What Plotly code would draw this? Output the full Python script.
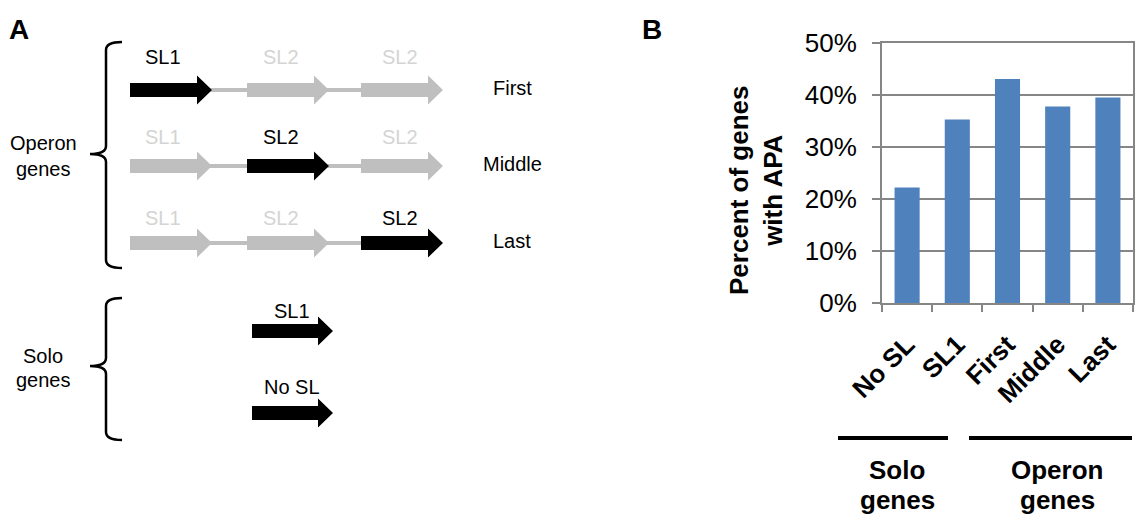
import plotly.graph_objects as go

# ---------------- data ----------------
categories = ["No SL", "SL1", "First", "Middle", "Last"]
apa_percent = [22.2, 35.3, 43.1, 37.8, 39.5]
y_ticks = [0, 10, 20, 30, 40, 50]
y_tick_text = ["0%", "10%", "20%", "30%", "40%", "50%"]
group_labels = ["Solo", "Operon"]

# panel A labels
operon_rows = ["First", "Middle", "Last"]
operon_sl = ["SL1", "SL2", "SL2"]
solo_rows = ["SL1", "No SL"]

W, H = 1139, 520
FONT = "Liberation Sans, Arial, sans-serif"
BLACK = "#000000"
GRAY_ARROW = "#bfbfbf"
GRAY_TEXT = "#d4d4d4"

fig = go.Figure()

fig.add_trace(go.Bar(
    x=categories, y=apa_percent, marker=dict(color="#4f81bd", line=dict(width=0)),
    xaxis="x", yaxis="y", hoverinfo="x+y", showlegend=False))

# invisible pixel-space overlay for the diagram
fig.add_trace(go.Scatter(x=[None], y=[None], xaxis="x2", yaxis="y2",
                         mode="lines", showlegend=False, hoverinfo="skip"))

shapes = []
annotations = []


def txt(x, y, s, size=20, color=BLACK, bold=False, **kw):
    if bold:
        s = "<b>" + s + "</b>"
    annotations.append(dict(x=x, y=y, xref="x2", yref="y2", text=s, showarrow=False,
                            font=dict(family=FONT, size=size, color=color),
                            xanchor="center", yanchor="middle", **kw))


def arrow(x0, x1, yc, color, body=7, head=14.5, headlen=15):
    xb = x1 - headlen
    path = (f"M {x0} {yc-body} L {xb} {yc-body} L {xb} {yc-head} L {x1} {yc} "
            f"L {xb} {yc+head} L {xb} {yc+body} L {x0} {yc+body} Z")
    shapes.append(dict(type="path", path=path, xref="x2", yref="y2",
                       fillcolor=color, line=dict(width=0), layer="above"))


def hline(x0, x1, y, color, width):
    shapes.append(dict(type="line", x0=x0, x1=x1, y0=y, y1=y, xref="x2", yref="y2",
                       line=dict(color=color, width=width), layer="above"))


def bracket(x, y0, y1, ymid, xl=90, xr=122):
    r = 8
    path = (f"M {xr} {y0} Q {x} {y0} {x} {y0+r} L {x} {ymid-r} Q {x} {ymid} {xl} {ymid} "
            f"Q {x} {ymid} {x} {ymid+r} L {x} {y1-r} Q {x} {y1} {xr} {y1}")
    shapes.append(dict(type="path", path=path, xref="x2", yref="y2",
                       line=dict(color=BLACK, width=2.5), layer="above"))


# ---------------- Panel A ----------------
txt(19, 29, "A", size=28, bold=True)

arrow_x = [(130, 212), (247, 329), (361, 443)]
label_x = [163, 281, 400]
row_y = [90, 166, 243]
label_y = [57, 137, 218]

for r, name in enumerate(operon_rows):
    y = row_y[r]
    for i in range(2):
        hline(arrow_x[i][1] - 2, arrow_x[i + 1][0] + 2, y, GRAY_ARROW, 4)
    for i in range(3):
        col = BLACK if i == r else GRAY_ARROW
        arrow(arrow_x[i][0], arrow_x[i][1], y, col)
        txt(label_x[i], label_y[r], operon_sl[i], color=BLACK if i == r else GRAY_TEXT)
    txt(512, y - 2, name)

bracket(106, 42, 268, 154)
txt(43, 143, "Operon")
txt(43, 169, "genes")

solo_y = [331, 413]
solo_label_y = [311, 387]
for i, lab in enumerate(solo_rows):
    arrow(252, 333, solo_y[i], BLACK)
    txt(292, solo_label_y[i], lab)

bracket(106, 298, 440, 366)
txt(43, 356, "Solo")
txt(43, 380, "genes")

# ---------------- Panel B ----------------
txt(652, 29, "B", size=28, bold=True)
txt(756, 190, "Percent of genes<br>with APA", size=26, bold=True, textangle=-90)

hline(838, 948, 438, BLACK, 4)
hline(969, 1132, 438, BLACK, 4)
txt(897, 470, group_labels[0], size=26, bold=True)
txt(897, 500, "genes", size=26, bold=True)
txt(1057, 470, group_labels[1], size=26, bold=True)
txt(1057, 500, "genes", size=26, bold=True)

AX = "#868686"
fig.update_layout(
    width=W, height=H, margin=dict(l=0, r=0, t=0, b=0, pad=0, autoexpand=False),
    paper_bgcolor="white", plot_bgcolor="rgba(0,0,0,0)",
    bargap=0.5, shapes=shapes, annotations=annotations,
    xaxis=dict(domain=[882 / W, 1133 / W], type="category", automargin=False,
               showline=True, linecolor=AX, linewidth=2, mirror=True,
               ticks="outside", ticklen=7, tickcolor=AX, tickwidth=2,
               tickson="boundaries", showgrid=False, tickangle=-45,
               ticklabelstandoff=14,
               tickfont=dict(family=FONT, size=26, color=BLACK, weight="bold"),
               anchor="y", fixedrange=True),
    yaxis=dict(domain=[(H - 303) / H, (H - 43) / H], range=[0, 50], automargin=False,
               tickvals=y_ticks, ticktext=y_tick_text,
               showline=True, linecolor=AX, linewidth=2, mirror=True,
               ticks="outside", ticklen=8, tickcolor=AX, tickwidth=2,
               showgrid=True, gridcolor=AX, gridwidth=2, zeroline=False,
               ticklabelstandoff=10,
               tickfont=dict(family=FONT, size=26, color=BLACK),
               anchor="x", fixedrange=True),
    xaxis2=dict(domain=[0, 1], range=[0, W], visible=False, fixedrange=True,
                anchor="y2", automargin=False),
    yaxis2=dict(domain=[0, 1], range=[H, 0], visible=False, fixedrange=True,
                anchor="x2", automargin=False),
)

fig.write_html("out.html")
